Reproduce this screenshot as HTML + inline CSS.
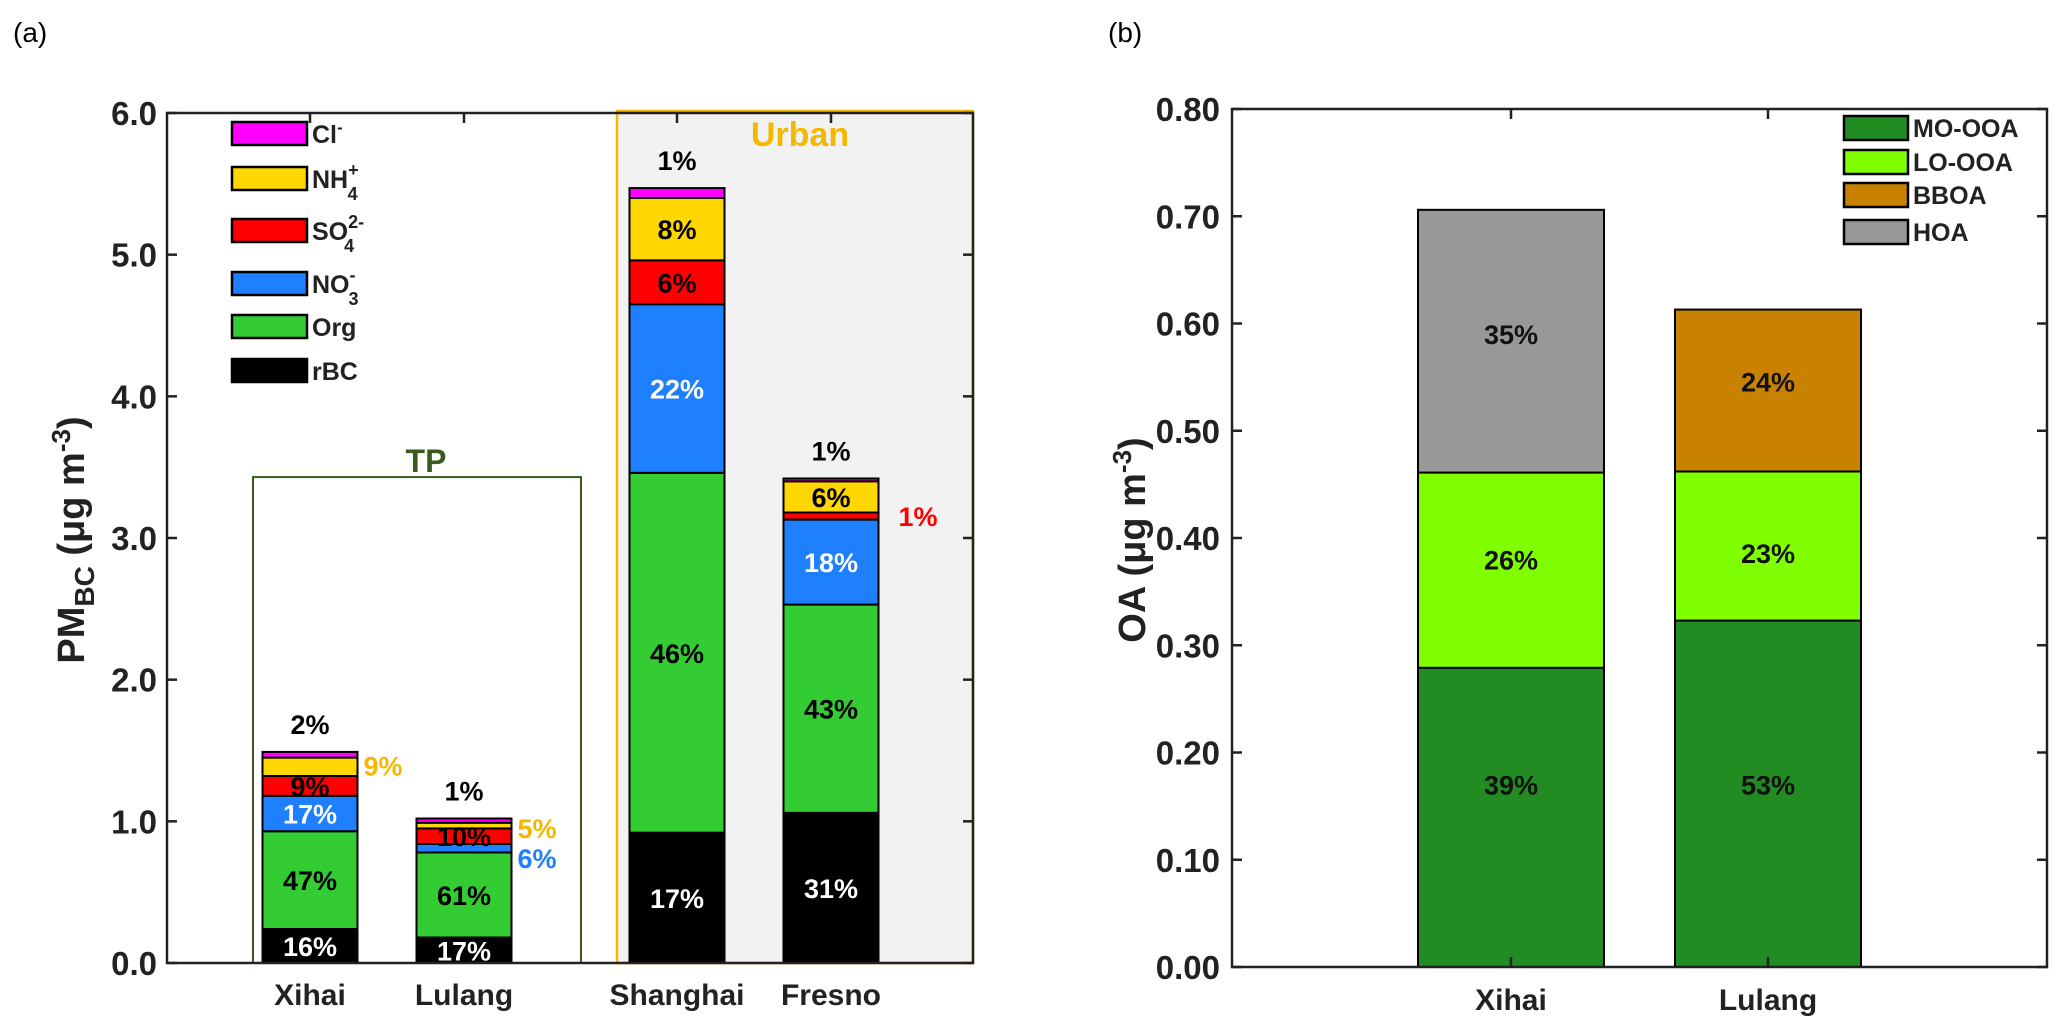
<!DOCTYPE html>
<html><head><meta charset="utf-8"><style>
html,body{margin:0;padding:0;background:#fff}
svg{display:block;font-family:"Liberation Sans",Arial,sans-serif;font-weight:bold}
</style></head><body>
<svg id="c" width="2067" height="1034" viewBox="0 0 2067 1034"></svg>
<script>
const sitesA=["Xihai","Lulang","Shanghai","Fresno"];
const compsA=["rBC","Org","NO3","SO4","NH4","Cl"];
const rBC=[0.24,0.18,0.92,1.06];
const org=[0.69,0.60,2.54,1.47];
const no3=[0.25,0.06,1.19,0.60];
const so4=[0.14,0.11,0.31,0.05];
const nh4=[0.13,0.04,0.44,0.22];
const cl=[0.04,0.03,0.07,0.02];
const pctA=[["16%","47%","17%","9%","9%","2%"],["17%","61%","6%","10%","5%","1%"],["17%","46%","22%","6%","8%","1%"],["31%","43%","18%","1%","6%","1%"]];
const ticksA=["0.0","1.0","2.0","3.0","4.0","5.0","6.0"];
const sitesB=["Xihai","Lulang"];
const moooa=[0.279,0.323];
const looooa=[0.182,0.139];
const bboa=[0,0.151];
const hoa=[0.245,0];
const pctB=[["39%","26%","","35%"],["53%","23%","24%",""]];
const ticksB=["0.00","0.10","0.20","0.30","0.40","0.50","0.60","0.70","0.80"];

const NS="http://www.w3.org/2000/svg";
const svg=document.getElementById("c");
function mk(tag,attrs,parent,text){const e=document.createElementNS(NS,tag);for(const k in attrs)e.setAttribute(k,attrs[k]);if(text!==undefined)e.textContent=text;(parent||svg).appendChild(e);return e;}

// Panel A scales
const aL=167,aR=973,aT=113,aB=963,aMax=6;
const yA=v=>aB-(v/aMax)*(aB-aT);
const xA=[310,464,677,831],bwA=95;
// panel B
const bL=1232,bR=2047,bT=109,bB=967,bMax=0.8;
const yB=v=>bB-(v/bMax)*(bB-bT);
const xB=[1511,1768],bwB=186;

let e;
e=mk("text",{x:13,y:42,"font-size":28,"font-weight":"normal"},svg,"(a)");

e=mk("text",{x:1108,y:42,"font-size":28,"font-weight":"normal"},svg,"(b)");


// urban box
e=mk("rect",{x:617,y:111,width:356,height:aB-111,fill:"#f2f2f2",stroke:"#f5b800","stroke-width":2.5});

e=mk("text",{x:800,y:146,"font-size":34,fill:"#f5b800","text-anchor":"middle"},svg,"Urban");

// TP box
e=mk("rect",{x:253,y:yA(3.43),width:328,height:aB-yA(3.43),fill:"none",stroke:"#3a5a1e","stroke-width":2});

e=mk("text",{x:426,y:yA(3.43)-5,"font-size":32,fill:"#3a5a1e","text-anchor":"middle"},svg,"TP");


const colA=["#000000","#33cc33","#1e7fff","#ff0000","#ffd700","#ff00ff"];
const seriesA=[rBC,org,no3,so4,nh4,cl];
const txtColA=["#fff","#000","#fff","#000","#000","#000"];
for(let i=0;i<sitesA.length;i++){
  let base=0;
  const tops=[];
  for(let s=0;s<6;s++){
    const v=seriesA[s][i];
    const y0=yA(base),y1=yA(base+v);
    e=mk("rect",{x:xA[i]-bwA/2,y:y1,width:bwA,height:y0-y1,fill:colA[s],stroke:"#000","stroke-width":2});
    
    
    tops.push([base,base+v]);
    base+=v;
  }
  // inner labels
  for(let s=0;s<6;s++){
    const [b0,b1]=tops[s];
    const h=yA(b0)-yA(b1);
    const p=pctA[i][s];
    const mid=(yA(b0)+yA(b1))/2;
    let x=xA[i],y=mid+10,anchor="middle",col=txtColA[s];
    if(s===5){y=yA(b1)-18;col="#000";}
    else if(h<22){
      if(s===3&&i!==3){ /* fits-ish inside red */ }
      else {x=xA[i]+bwA/2+6;anchor="start";col=colA[s]==="#ffd700"?"#f5b800":colA[s];
        y=mid+10;}
    }
    if(i===0&&s===4){x=xA[i]+bwA/2+6;anchor="start";col="#f5b800";y=yA(b1)+18;}
    if(i===1&&s===4){x=xA[i]+bwA/2+6;anchor="start";col="#f5b800";y=yA(b1)+15;}
    if(i===1&&s===2){y=yA(b1)+24;}
    if(i===3&&s===3){x=xA[i]+bwA/2+20;y=mid+10;}
    e=mk("text",{x:x,y:y,"font-size":27,fill:col,"text-anchor":anchor},svg,p);
    
    
  }
}

// axes A
e=mk("path",{d:`M${aL},${aT}H${aR}V${aB}H${aL}Z`,fill:"none",stroke:"#222","stroke-width":2.5});

ticksA.forEach((t,k)=>{const v=parseFloat(t);const y=yA(v);
  mk("line",{x1:aL,x2:aL+10,y1:y,y2:y,stroke:"#222","stroke-width":2.5});
  mk("line",{x1:aR,x2:aR-10,y1:y,y2:y,stroke:"#222","stroke-width":2.5});
  e=mk("text",{x:aL-10,y:y+12,"font-size":33,fill:"#222","text-anchor":"end"},svg,t);
  
});
sitesA.forEach((s,i)=>{
  mk("line",{x1:xA[i],x2:xA[i],y1:aT,y2:aT+10,stroke:"#222","stroke-width":2.5});
  e=mk("text",{x:xA[i],y:1005,"font-size":30,fill:"#222","text-anchor":"middle"},svg,s);
  
});
e=mk("text",{transform:"translate(84,540) rotate(-90)","font-size":38,fill:"#222","text-anchor":"middle"});
e.innerHTML='PM<tspan font-size="28" dy="10">BC</tspan><tspan dy="-10"> (μg m</tspan><tspan font-size="26" dy="-14">-3</tspan><tspan dy="14">)</tspan>';


// legend A
const legA=[["Cl","<tspan>Cl</tspan><tspan font-size='17' dy='-10'>-</tspan>",5,122],["NH4","NH<tspan font-size='18' dy='-12'>+</tspan><tspan font-size='18' dx='-11' dy='24'>4</tspan>",4,167],["SO4","SO<tspan font-size='18' dy='-12'>2-</tspan><tspan font-size='18' dx='-20' dy='24'>4</tspan>",3,219],["NO3","NO<tspan font-size='18' dy='-12'>-</tspan><tspan font-size='18' dx='-7' dy='24'>3</tspan>",2,272],["Org","Org",1,315],["rBC","rBC",0,359]];
legA.forEach(l=>{
  e=mk("rect",{x:232,y:l[3],width:75,height:23,fill:colA[l[2]],stroke:"#000","stroke-width":2.5});
  
  e=mk("text",{x:312,y:l[3]+21,"font-size":25,fill:"#222"});
  e.innerHTML=l[1];
  
});

// Panel B bars
const seriesB=[moooa,looooa,bboa,hoa];
const namesB=["mo-ooa","lo-ooa","bboa","hoa"];
const colB=["#228b22","#80ff00","#c88200","#999799"];
const labYB=[[0.17,0.38,0,0.59],[0.17,0.386,0.546,0]];
for(let i=0;i<2;i++){
  let base=0;
  for(let s=0;s<4;s++){
    const v=seriesB[s][i]; if(v<=0)continue;
    const y0=yB(base),y1=yB(base+v);
    e=mk("rect",{x:xB[i]-bwB/2,y:y1,width:bwB,height:y0-y1,fill:colB[s],stroke:"#000","stroke-width":2});
    
    base+=v;
    e=mk("text",{x:xB[i],y:yB(labYB[i][s])+10,"font-size":27,fill:"#111","text-anchor":"middle"},svg,pctB[i][s]);
    
  }
}
e=mk("path",{d:`M${bL},${bT}H${bR}V${bB}H${bL}Z`,fill:"none",stroke:"#222","stroke-width":2.5});

ticksB.forEach(t=>{const y=yB(parseFloat(t));
  mk("line",{x1:bL,x2:bL+10,y1:y,y2:y,stroke:"#222","stroke-width":2.5});
  mk("line",{x1:bR,x2:bR-10,y1:y,y2:y,stroke:"#222","stroke-width":2.5});
  e=mk("text",{x:bL-12,y:y+12,"font-size":33,fill:"#222","text-anchor":"end"},svg,t);
  
});
sitesB.forEach((s,i)=>{
  mk("line",{x1:xB[i],x2:xB[i],y1:bT,y2:bT+10,stroke:"#222","stroke-width":2.5});
  mk("line",{x1:xB[i],x2:xB[i],y1:bB,y2:bB-10,stroke:"#222","stroke-width":2.5});
  e=mk("text",{x:xB[i],y:1010,"font-size":30,fill:"#222","text-anchor":"middle"},svg,s);
  
});
e=mk("text",{transform:"translate(1145,540) rotate(-90)","font-size":38,fill:"#222","text-anchor":"middle"});
e.innerHTML='OA (μg m<tspan font-size="26" dy="-14">-3</tspan><tspan dy="14">)</tspan>';

const legB=[["MO-OOA",0,116],["LO-OOA",1,150],["BBOA",2,183],["HOA",3,220]];
legB.forEach(l=>{
  e=mk("rect",{x:1844,y:l[2],width:64,height:24,fill:colB[l[1]],stroke:"#000","stroke-width":2.5});
  
  e=mk("text",{x:1913,y:l[2]+21,"font-size":25,fill:"#222"},svg,l[0]);
  
});
</script>
</body></html>
